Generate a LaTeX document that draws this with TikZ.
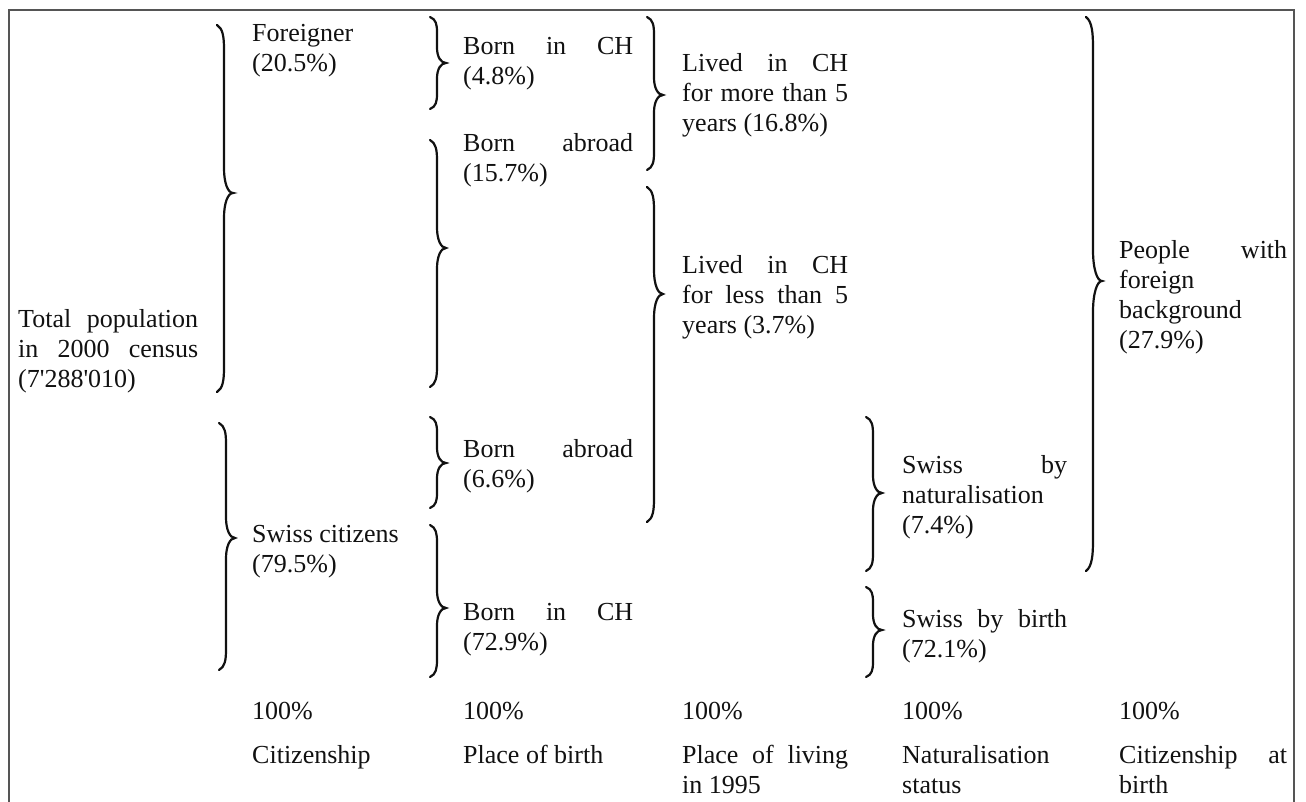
\documentclass[tikz,border=0pt]{standalone}
\usepackage{fontspec}
\usepackage{tikz}
\newfontfamily\lbfont{Liberation Serif}
\definecolor{Ink}{HTML}{111111}
\definecolor{Frame}{HTML}{555555}

\begin{document}
\begin{tikzpicture}[x=1pt,y=-1pt,
  lbl/.style={font=\lbfont\fontsize{26}{30}\selectfont,anchor=base west,inner sep=0pt,align=left,text=Ink},
  brc/.style={Ink,line width=2.2pt,line cap=round}]
  \useasboundingbox (0,0) rectangle (1306,802);
  \draw[Frame,line width=1.2pt] (9,802) -- (9,10) -- (1294,10) -- (1294,802);
  % braces: x / top / tip / bottom
  \foreach \bx/\btop/\btip/\bbot in {224/25/193/392, 226/423/538/670, 437/17/63/109,
      437/140/248/387, 437/417/463/508, 437/525/608/677, 654/17/95/170, 654/187/294/522,
      873/417/493/571, 873/587/630/677, 1093/17/281/571} {
    \pgfmathsetmacro{\rad}{12+0.034*(\bbot-\btop)}
    \draw[brc] ({\bx-7},\btop) .. controls ({\bx-1},{\btop+0.15*\rad}) and (\bx,{\btop+0.5*\rad}) .. (\bx,{\btop+\rad})
      -- (\bx,{\btip-\rad}) .. controls (\bx,{\btip-0.4*\rad}) and ({\bx+4},\btip) .. ({\bx+9},\btip)
      .. controls ({\bx+4},\btip) and (\bx,{\btip+0.4*\rad}) .. (\bx,{\btip+\rad})
      -- (\bx,{\bbot-\rad}) .. controls (\bx,{\bbot-0.5*\rad}) and ({\bx-1},{\bbot-0.15*\rad}) .. ({\bx-7},\bbot);
  }
  % column texts (anchored at the baseline of the last line)
  \node[lbl] (tot) at (18,387) {\makebox[180pt][s]{Total population}\\\makebox[180pt][s]{in 2000 census}\\(7'288'010)};
  \node[lbl] (forg) at (252,72) {Foreigner\\(20.5\%)};
  \node[lbl] (swc) at (252,572) {Swiss citizens\\(79.5\%)};
  \node[lbl] (bch1) at (463,85) {\makebox[170pt][s]{Born in CH}\\(4.8\%)};
  \node[lbl] (bab1) at (463,182) {\makebox[170pt][s]{Born abroad}\\(15.7\%)};
  \node[lbl] (bab2) at (463,487) {\makebox[170pt][s]{Born abroad}\\(6.6\%)};
  \node[lbl] (bch2) at (463,650) {\makebox[170pt][s]{Born in CH}\\(72.9\%)};
  \node[lbl] (lmore) at (682,132) {\makebox[166pt][s]{Lived in CH}\\\makebox[166pt][s]{for more than 5}\\years (16.8\%)};
  \node[lbl] (lless) at (682,333) {\makebox[166pt][s]{Lived in CH}\\\makebox[166pt][s]{for less than 5}\\years (3.7\%)};
  \node[lbl] (snat) at (902,533) {\makebox[165pt][s]{Swiss by}\\naturalisation\\(7.4\%)};
  \node[lbl] (sbir) at (902,657) {\makebox[165pt][s]{Swiss by birth}\\(72.1\%)};
  \node[lbl] (fbg) at (1119,348) {\makebox[168pt][s]{People with}\\foreign\\background\\(27.9\%)};
  % bottom row
  \foreach \c/\xx/\yy/\lab in {1/252/763/Citizenship, 2/463/763/Place of birth,
      3/682/793/{\makebox[166pt][s]{Place of living}\\in 1995}, 4/902/793/{Naturalisation\\status},
      5/1119/793/{\makebox[168pt][s]{Citizenship at}\\birth}} {
    \node[lbl] (pct\c) at (\xx,719) {100\%};
    \node[lbl] (col\c) at (\xx,\yy) {\lab};
  }
\end{tikzpicture}
\end{document}
